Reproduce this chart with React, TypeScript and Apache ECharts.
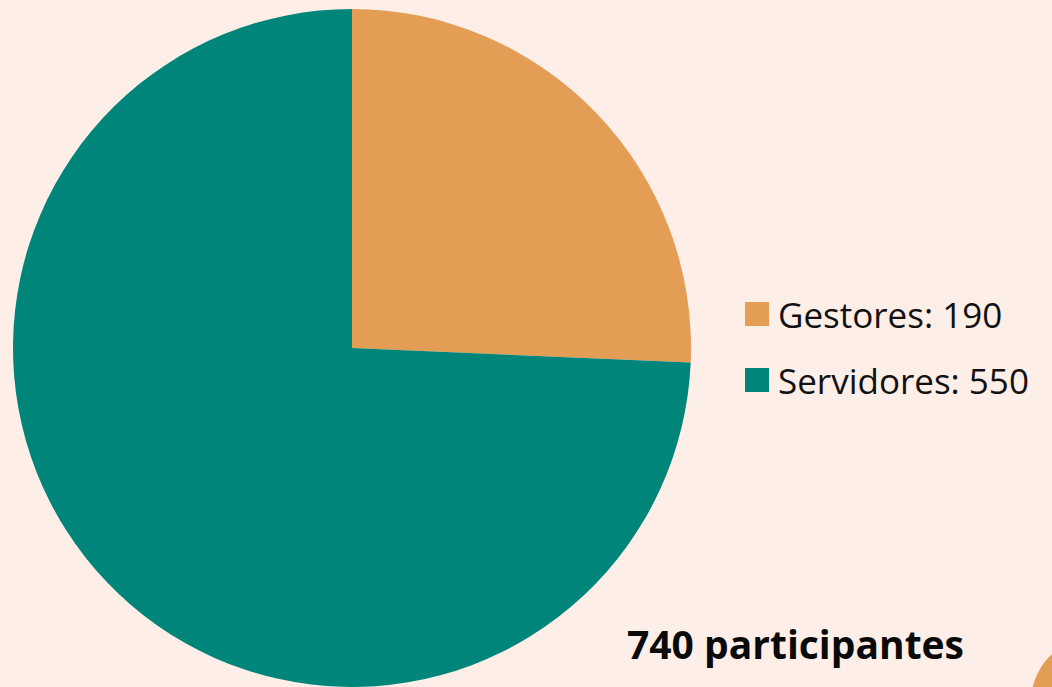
import React, { useEffect, useRef } from "react";
import * as echarts from "echarts";

const categories = ["Gestores", "Servidores"];
const values = [190, 550];
const colors = ["#E39D55", "#00857A"];
const totalLabel = "740 participantes";

export default function App() {
  const ref = useRef<HTMLDivElement>(null);

  useEffect(() => {
    if (!ref.current) return;
    const chart = echarts.init(ref.current, null, { renderer: "svg" });
    const data = categories.map((name, i) => ({
      name,
      value: values[i],
      itemStyle: { color: colors[i] },
    }));
    chart.setOption({
      animation: false,
      backgroundColor: "#FDEEE8",
      legend: {
        orient: "vertical",
        left: 740,
        top: 291,
        icon: "rect",
        itemWidth: 24,
        itemHeight: 24,
        itemGap: 30,
        selectedMode: false,
        formatter: (name: string) => {
          const i = categories.indexOf(name);
          return `${name}: ${values[i]}`;
        },
        textStyle: {
          fontFamily: "Open Sans",
          fontSize: 35,
          lineHeight: 36,
          color: "#111111",
          padding: [0, 0, 0, 4],
        },
        data: categories,
      },
      graphic: [
        {
          type: "text",
          left: 627,
          top: 624,
          style: {
            text: totalLabel,
            fontFamily: "Open Sans",
            fontWeight: "bold",
            fontSize: 39,
            fill: "#0A0A0A",
          },
        },
        {
          type: "ellipse",
          shape: { cx: 1078, cy: 708, rx: 48, ry: 64 },
          style: { fill: "#E39D55" },
        },
      ],
      series: [
        {
          type: "pie",
          center: [352, 348],
          radius: 339,
          startAngle: 90,
          clockwise: true,
          label: { show: false },
          labelLine: { show: false },
          emphasis: { disabled: true },
          itemStyle: { borderWidth: 0 },
          data,
        },
      ],
    });
    return () => chart.dispose();
  }, []);

  return (
    <div
      ref={ref}
      style={{ position: "absolute", left: 0, top: 0, width: 1052, height: 687 }}
    />
  );
}
